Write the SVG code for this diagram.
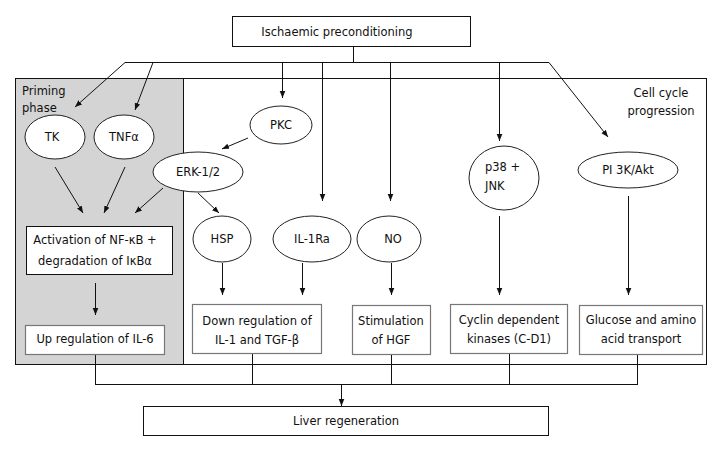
<svg xmlns="http://www.w3.org/2000/svg" width="722" height="451" viewBox="0 0 722 451">
<defs>
<marker id="ah" viewBox="0 0 10 10" refX="10" refY="5" markerWidth="7" markerHeight="7" markerUnits="userSpaceOnUse" orient="auto">
<path d="M0,1 L10,5 L0,9 z" fill="#111"/>
</marker>
</defs>
<style>
text{font-family:"DejaVu Sans","Verdana",sans-serif;font-size:11.5px;fill:#111}
.c{text-anchor:middle}
.ln{stroke:#111;stroke-width:1;fill:none}
.ar{stroke:#111;stroke-width:1;fill:none;marker-end:url(#ah)}
.box{fill:#fff;stroke:#111;stroke-width:1}
.gbox{fill:#fff;stroke:#777;stroke-width:1.2}
.el{fill:#fff;stroke:#222;stroke-width:1}
</style>
<rect width="722" height="451" fill="#fff"/>
<g id="frame">
<rect x="15.5" y="78.5" width="168" height="286" fill="#d4d4d4" stroke="#111"/>
<rect x="183.5" y="78.5" width="523" height="286" fill="#fff" stroke="#111"/>
<text x="22" y="95">Priming</text>
<text x="22" y="112">phase</text>
<text x="661" y="97" class="c">Cell cycle</text>
<text x="661" y="115" class="c">progression</text>
</g>
<g id="connectors">
<line class="ln" x1="353.5" y1="46" x2="353.5" y2="62.5"/>
<line class="ln" x1="125" y1="62.5" x2="549" y2="62.5"/>
<line class="ar" x1="125" y1="62.5" x2="75" y2="107"/>
<line class="ar" x1="153" y1="62.5" x2="135" y2="110"/>
<line class="ar" x1="282.5" y1="62.5" x2="282.5" y2="98"/>
<line class="ar" x1="322.5" y1="62.5" x2="322.5" y2="201"/>
<line class="ar" x1="390.5" y1="62.5" x2="390.5" y2="201"/>
<line class="ar" x1="499.5" y1="62.5" x2="499.5" y2="141"/>
<line class="ar" x1="549" y1="62.5" x2="608" y2="137"/>
<line class="ar" x1="55" y1="167" x2="83" y2="213"/>
<line class="ar" x1="125" y1="167" x2="104" y2="213"/>
<line class="ar" x1="163" y1="188" x2="135" y2="213"/>
<line class="ar" x1="248" y1="138" x2="222" y2="149"/>
<line class="ar" x1="198" y1="193" x2="219" y2="213"/>
<line class="ar" x1="95.5" y1="283" x2="95.5" y2="315"/>
<line class="ar" x1="222.5" y1="263" x2="222.5" y2="295"/>
<line class="ar" x1="302.5" y1="263" x2="302.5" y2="295"/>
<line class="ar" x1="391.5" y1="263" x2="391.5" y2="295"/>
<line class="ar" x1="499.5" y1="216" x2="499.5" y2="295"/>
<line class="ar" x1="628.5" y1="196" x2="628.5" y2="295"/>
<line class="ln" x1="95.5" y1="354" x2="95.5" y2="384.5"/>
<line class="ln" x1="252.5" y1="353" x2="252.5" y2="384.5"/>
<line class="ln" x1="391.5" y1="354" x2="391.5" y2="384.5"/>
<line class="ln" x1="509.5" y1="354" x2="509.5" y2="384.5"/>
<line class="ln" x1="637.5" y1="355" x2="637.5" y2="384.5"/>
<line class="ln" x1="95" y1="384.5" x2="638" y2="384.5"/>
<line class="ar" x1="341.5" y1="384.5" x2="341.5" y2="406"/>
</g>
<g id="ischaemic">
<rect class="box" x="232.5" y="16.5" width="238" height="30"/>
<text x="337" y="36" class="c">Ischaemic preconditioning</text>
</g>
<g id="tk">
<ellipse class="el" cx="55" cy="137" rx="30" ry="22"/>
<text x="52" y="141" class="c">TK</text>
</g>
<g id="tnfa">
<ellipse class="el" cx="124" cy="137" rx="30" ry="22"/>
<text x="124" y="141" class="c">TNFα</text>
</g>
<g id="pkc">
<ellipse class="el" cx="281" cy="125" rx="31" ry="19"/>
<text x="281" y="129" class="c">PKC</text>
</g>
<g id="erk">
<ellipse class="el" cx="198" cy="172" rx="45" ry="20"/>
<text x="198" y="176" class="c">ERK-1/2</text>
</g>
<g id="hsp">
<ellipse class="el" cx="222" cy="239" rx="29" ry="23"/>
<text x="222" y="243" class="c">HSP</text>
</g>
<g id="il1ra">
<ellipse class="el" cx="312" cy="239" rx="39" ry="23"/>
<text x="312" y="243" class="c">IL-1Ra</text>
</g>
<g id="no">
<ellipse class="el" cx="389" cy="239" rx="32" ry="23"/>
<text x="393" y="243" class="c">NO</text>
</g>
<g id="p38">
<ellipse class="el" cx="504" cy="178" rx="35" ry="32"/>
<text x="485" y="171">p38 +</text>
<text x="485" y="190">JNK</text>
</g>
<g id="pi3k">
<ellipse class="el" cx="628" cy="170" rx="50" ry="18"/>
<text x="628" y="174" class="c">PI 3K/Akt</text>
</g>
<g id="activation">
<rect class="box" x="26.5" y="226.5" width="146" height="48"/>
<text x="95" y="244" class="c">Activation of NF-κB +</text>
<text x="95" y="265" class="c">degradation of IκBα</text>
</g>
<g id="il6">
<rect class="gbox" x="25.5" y="325.5" width="139" height="29"/>
<text x="95" y="343" class="c">Up regulation of IL-6</text>
</g>
<g id="downreg">
<rect class="gbox" x="192.5" y="304.5" width="129" height="49"/>
<text x="257" y="325" class="c">Down regulation of</text>
<text x="257" y="344" class="c">IL-1 and TGF-β</text>
</g>
<g id="hgf">
<rect class="gbox" x="352.5" y="305.5" width="78" height="49"/>
<text x="391" y="325" class="c">Stimulation</text>
<text x="391" y="344" class="c">of HGF</text>
</g>
<g id="cyclin">
<rect class="gbox" x="450.5" y="304.5" width="117" height="49"/>
<text x="509" y="324" class="c">Cyclin dependent</text>
<text x="509" y="343" class="c">kinases (C-D1)</text>
</g>
<g id="glucose">
<rect class="gbox" x="579.5" y="305.5" width="123" height="49"/>
<text x="641" y="324" class="c">Glucose and amino</text>
<text x="641" y="343" class="c">acid transport</text>
</g>
<g id="liver">
<rect class="box" x="143.5" y="406.5" width="405" height="29"/>
<text x="346" y="425" class="c">Liver regeneration</text>
</g>
</svg>
